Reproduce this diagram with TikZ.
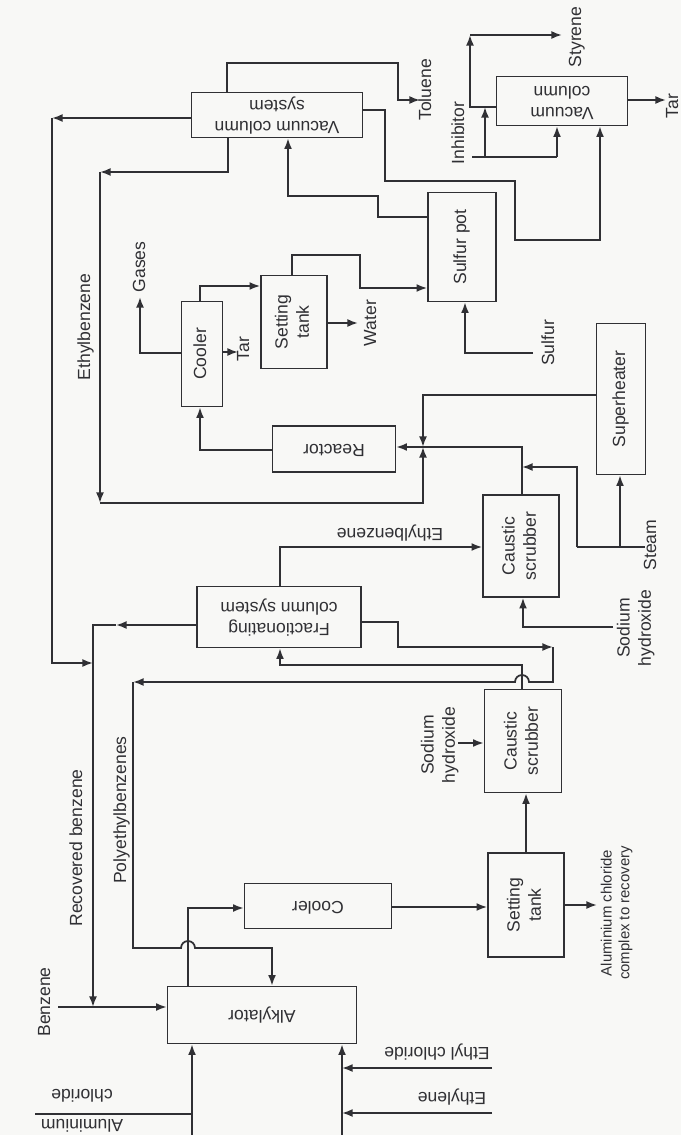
\documentclass[tikz,border=0pt]{standalone}
\usepackage{fontspec}
\setmainfont{Liberation Sans}
\usepackage{graphicx}
\usepackage{tikz}
\usetikzlibrary{arrows.meta, positioning, calc}
\definecolor{ink}{RGB}{48,48,52}
\definecolor{paper}{RGB}{248,248,246}
\newcommand{\rup}[1]{\rotatebox[origin=c]{90}{\begin{tabular}{@{}c@{}}#1\end{tabular}}}
\newcommand{\rdn}[1]{\rotatebox[origin=c]{180}{\begin{tabular}{@{}c@{}}#1\end{tabular}}}
\tikzset{
  unit/.style={rectangle, draw=ink, line width=1pt, inner sep=0pt,
    text=ink, font=\fontsize{10}{12}\selectfont},
  lbl/.style={inner sep=0.5pt, text=ink, font=\fontsize{10}{12}\selectfont},
  arrow/.style={-{Latex[length=6pt,width=4.5pt]}, line width=1pt, color=ink},
  line/.style={line width=1pt, color=ink}
}

\begin{document}
\begin{tikzpicture}[x=0.02cm, y=-0.02cm]
  \fill[paper] (0,0) rectangle (681,1135);
  \useasboundingbox (0,0) rectangle (681,1135);

  % Units
  \node[unit, minimum width=3.42cm, minimum height=0.9cm] (vacsys) at (277,115) {\rdn{Vacuum column\\system}};
  \node[unit, minimum width=2.62cm, minimum height=0.98cm] (vaccol) at (562,101) {\rdn{Vacuum\\column}};
  \node[unit, minimum width=0.82cm, minimum height=2.1cm] (cool1) at (202,354) {\rup{Cooler}};
  \node[unit, minimum width=1.32cm, minimum height=1.86cm] (settle1) at (294,322) {\rup{Setting\\tank}};
  \node[unit, minimum width=1.36cm, minimum height=2.18cm] (sulpot) at (462,247) {\rup{Sulfur pot}};
  \node[unit, minimum width=2.46cm, minimum height=0.92cm] (reactor) at (334,449) {\rdn{Reactor}};
  \node[unit, minimum width=0.98cm, minimum height=3.02cm] (superh) at (621,399) {\rup{Superheater}};
  \node[unit, minimum width=1.52cm, minimum height=2.04cm] (scrub1) at (521,546) {\rup{Caustic\\scrubber}};
  \node[unit, minimum width=3.28cm, minimum height=1.22cm] (fract) at (279,617) {\rdn{Fractionating\\column system}};
  \node[unit, minimum width=1.54cm, minimum height=2.06cm] (scrub2) at (523,741) {\rup{Caustic\\scrubber}};
  \node[unit, minimum width=1.52cm, minimum height=2.08cm] (settle2) at (526,905) {\rup{Setting\\tank}};
  \node[unit, minimum width=2.94cm, minimum height=0.9cm] (cool2) at (318,906) {\rdn{Cooler}};
  \node[unit, minimum width=3.78cm, minimum height=1.14cm] (alky) at (262,1015) {\rdn{Alkylator}};

  % Stream labels
  \node[lbl] (lTol) at (427,90) {\rup{Toluene}};
  \node[lbl] (lSty) at (577,37) {\rup{Styrene}};
  \node[lbl] (lInh) at (460,133) {\rup{Inhibitor}};
  \node[lbl] (lTarR) at (674,106) {\rup{Tar}};
  \node[lbl] (lGas) at (141,267) {\rup{Gases}};
  \node[lbl] (lTarL) at (245,349) {\rup{Tar}};
  \node[lbl] (lWat) at (372,323) {\rup{Water}};
  \node[lbl] (lSul) at (550,343) {\rup{Sulfur}};
  \node[lbl] (lEb1) at (86,327) {\rup{Ethylbenzene}};
  \node[lbl] (lSteam) at (652,545) {\rup{Steam}};
  \node[lbl] (lNa1) at (636,628) {\rup{Sodium\\hydroxide}};
  \node[lbl] (lEb2) at (390,533) {\rdn{Ethylbenzene}};
  \node[lbl] (lNa2) at (440,745) {\rup{Sodium\\hydroxide}};
  \node[lbl, font=\fontsize{8.5}{10}\selectfont] (lAlc) at (617,913) {\rup{Aluminium chloride\\complex to recovery}};
  \node[lbl] (lRec) at (78,848) {\rup{Recovered benzene}};
  \node[lbl] (lPoly) at (122,810) {\rup{Polyethylbenzenes}};
  \node[lbl] (lBz) at (46,1002) {\rup{Benzene}};
  \node[lbl] (lAl) at (82,1109) {\rdn{Aluminium\\[5pt]chloride}};
  \node[lbl] (lEtCl) at (437,1052) {\rdn{Ethyl chloride}};
  \node[lbl] (lEth) at (452,1097) {\rdn{Ethylene}};

  % Free ends and junctions
  \coordinate (tolE) at (420,100);
  \coordinate (styE) at (562,35);
  \coordinate (inhS) at (472,157);
  \coordinate (tarE) at (666,100);
  \coordinate (gasE) at (140,297);
  \coordinate (tarL) at (238,352);
  \coordinate (watE) at (358,323);
  \coordinate (sulS) at (533,353);
  \coordinate (jn) at (423,447);
  \coordinate (stmS) at (645,547);
  \coordinate (na1S) at (613,627);
  \coordinate (na2S) at (458,743);
  \coordinate (alcE) at (597,905);
  \coordinate (bzS) at (58,1007);
  \coordinate (bzJ) at (93,1007);
  \coordinate (alS) at (35,1114);
  \coordinate (alB) at (192,1135);
  \coordinate (etB) at (342,1135);
  \coordinate (etclS) at (492,1068);
  \coordinate (ethS) at (492,1113);

  % Vacuum column system outlets
  \draw[arrow] (vacsys.north -| 227,0) -- (227,63) -- (398,63) -- (398,100) -- (tolE);
  \draw[arrow] (vacsys.west |- 0,118) -- (52,118);
  \draw[arrow] (52,118) -- (52,663) -- (93,663);
  \draw[arrow] (vacsys.south -| 228,0) -- (228,172) -- (100,172);
  \draw[arrow] (100,172) -- (100,503);
  \draw[arrow] (100,503) -- (423,503) -- (jn);
  \draw[arrow] (vacsys.east |- 0,110) -- (385,110) -- (385,181) -- (515,181) -- (515,240) -- (600,240) -- (vaccol.south -| 600,0);

  % Vacuum column
  \draw[arrow] (vaccol.west |- 0,107) -- (470,107) -- (470,35);
  \draw[arrow] (470,35) -- (styE);
  \draw[line] (inhS) -- (557,157);
  \draw[arrow] (557,157) -- (vaccol.south -| 557,0);
  \draw[arrow] (485,157) -- (485,107);
  \draw[arrow] (vaccol.east |- tarE) -- (tarE);

  % Reactor train
  \draw[arrow] (superh.west |- 0,395) -- (423,395) -- (jn);
  \draw[arrow] (scrub1.north -| 522,0) -- (522,447) -- (reactor.east |- jn);
  \draw[arrow] (reactor.west |- 0,450) -- (200,450) -- (cool1.south -| 200,0);
  \draw[arrow] (cool1.west |- 0,353) -- (140,353) -- (gasE);
  \draw[arrow] (cool1.east |- tarL) -- (tarL);
  \draw[arrow] (cool1.north -| 200,0) -- (200,286) -- (settle1.west |- 0,286);
  \draw[arrow] (settle1.east |- watE) -- (watE);
  \draw[arrow] (settle1.north -| 292,0) -- (292,255) -- (360,255) -- (360,288) -- (sulpot.west |- 0,288);
  \draw[arrow] (sulS) -- (465,353) -- (sulpot.south -| 465,0);
  \draw[arrow] (sulpot.west |- 0,217) -- (378,217) -- (378,196) -- (288,196) -- (vacsys.south -| 288,0);

  % Steam and caustic scrubber
  \draw[line] (stmS) -- (577,547);
  \draw[arrow] (620,547) -- (superh.south -| 620,0);
  \draw[arrow] (577,547) -- (577,467) -- (522,467);
  \draw[arrow] (na1S) -- (523,627) -- (scrub1.south -| 523,0);
  \draw[arrow] (fract.north -| 280,0) -- (280,547) -- (scrub1.west |- 0,547);

  % Fractionating column
  \draw[arrow] (fract.west |- 0,625) -- (116,625);
  \draw[arrow] (116,625) -- (93,625) -- (bzJ);
  \draw[arrow] (fract.east |- 0,622) -- (398,622) -- (398,647) -- (553,647);
  \draw[arrow] (553,647) -- (553,682) -- (529,682)
    arc[start angle=0, end angle=180, radius=0.14cm] -- (133,682);
  \draw[arrow] (133,682) -- (133,948) -- (181,948)
    arc[start angle=180, end angle=0, radius=0.14cm] -- (272,948) -- (alky.north -| 272,0);
  \draw[arrow] (scrub2.north -| 522,0) -- (522,665) -- (280,665) -- (fract.south -| 280,0);
  \draw[arrow] (na2S) -- (scrub2.west |- na2S);

  % Alkylation section
  \draw[arrow] (settle2.north -| 526,0) -- (scrub2.south -| 526,0);
  \draw[arrow] (settle2.east |- alcE) -- (alcE);
  \draw[arrow] (cool2.east |- 0,907) -- (settle2.west |- 0,907);
  \draw[arrow] (alky.north -| 188,0) -- (188,908) -- (cool2.west |- 0,908);
  \draw[arrow] (bzS) -- (alky.west |- bzS);
  \draw[line] (alS) -- (192,1114);
  \draw[arrow] (alB) -- (alky.south -| alB);
  \draw[arrow] (etB) -- (alky.south -| etB);
  \draw[arrow] (etclS) -- (etB |- etclS);
  \draw[arrow] (ethS) -- (etB |- ethS);
\end{tikzpicture}
\end{document}
